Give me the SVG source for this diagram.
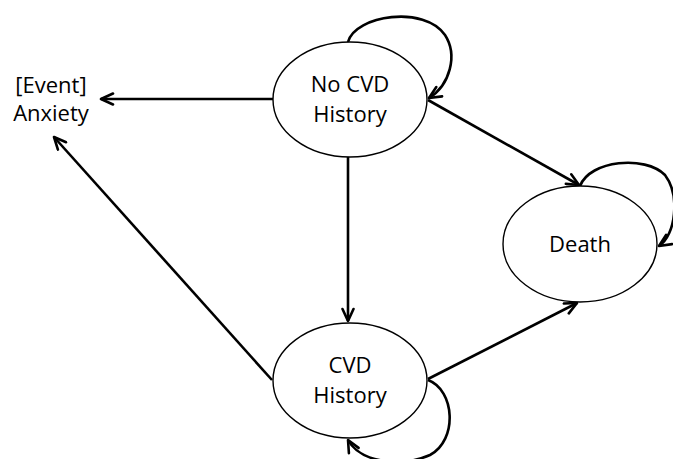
<svg xmlns="http://www.w3.org/2000/svg" width="673" height="459" viewBox="0 0 673 459">
<style>
.node ellipse{fill:#fff;stroke:#000;stroke-width:1.4}
text{font-family:"Open Sans","Liberation Sans",sans-serif;font-size:22px;fill:#000;text-anchor:middle}
.edge{fill:none;stroke:#000;stroke-width:2.6;marker-end:url(#arr)}
</style>
<defs>
<marker id="arr" markerUnits="userSpaceOnUse" markerWidth="16" markerHeight="14" viewBox="0 0 16 14" refX="14" refY="7" orient="auto">
<path d="M2,1.5 L14,7 L2,12.5" fill="none" stroke="#000" stroke-width="2.6" stroke-linecap="round" stroke-linejoin="round"/>
</marker>
</defs>
<g id="connectors">
<path class="edge" d="M273,99 L101,99"/>
<path class="edge" d="M272,380 L54,137"/>
<path class="edge" d="M348,157 L348,321"/>
<path class="edge" d="M428,100 L579,185"/>
<path class="edge" d="M428,379 L577,303"/>
<path class="edge" d="M348,42 C355,15 425,5 445,35 C458,55 450,85 429,98"/>
<path class="edge" d="M580,186 C590,160 645,155 665,175 C680,195 676,235 659,246"/>
<path class="edge" d="M428,380 C455,390 458,440 430,455 C400,468 360,462 348,440"/>
</g>
<g id="anxiety">
<text x="51" y="93">[Event]</text>
<text x="51" y="121">Anxiety</text>
</g>
<g id="no-cvd" class="node">
<ellipse cx="350" cy="99.5" rx="77" ry="57.5"/>
<text x="350" y="92">No CVD</text>
<text x="350" y="122">History</text>
</g>
<g id="death" class="node">
<ellipse cx="580" cy="244" rx="77" ry="58"/>
<text x="580" y="252">Death</text>
</g>
<g id="cvd" class="node">
<ellipse cx="350" cy="380.5" rx="77" ry="57.5"/>
<text x="350" y="373">CVD</text>
<text x="350" y="403">History</text>
</g>
</svg>
